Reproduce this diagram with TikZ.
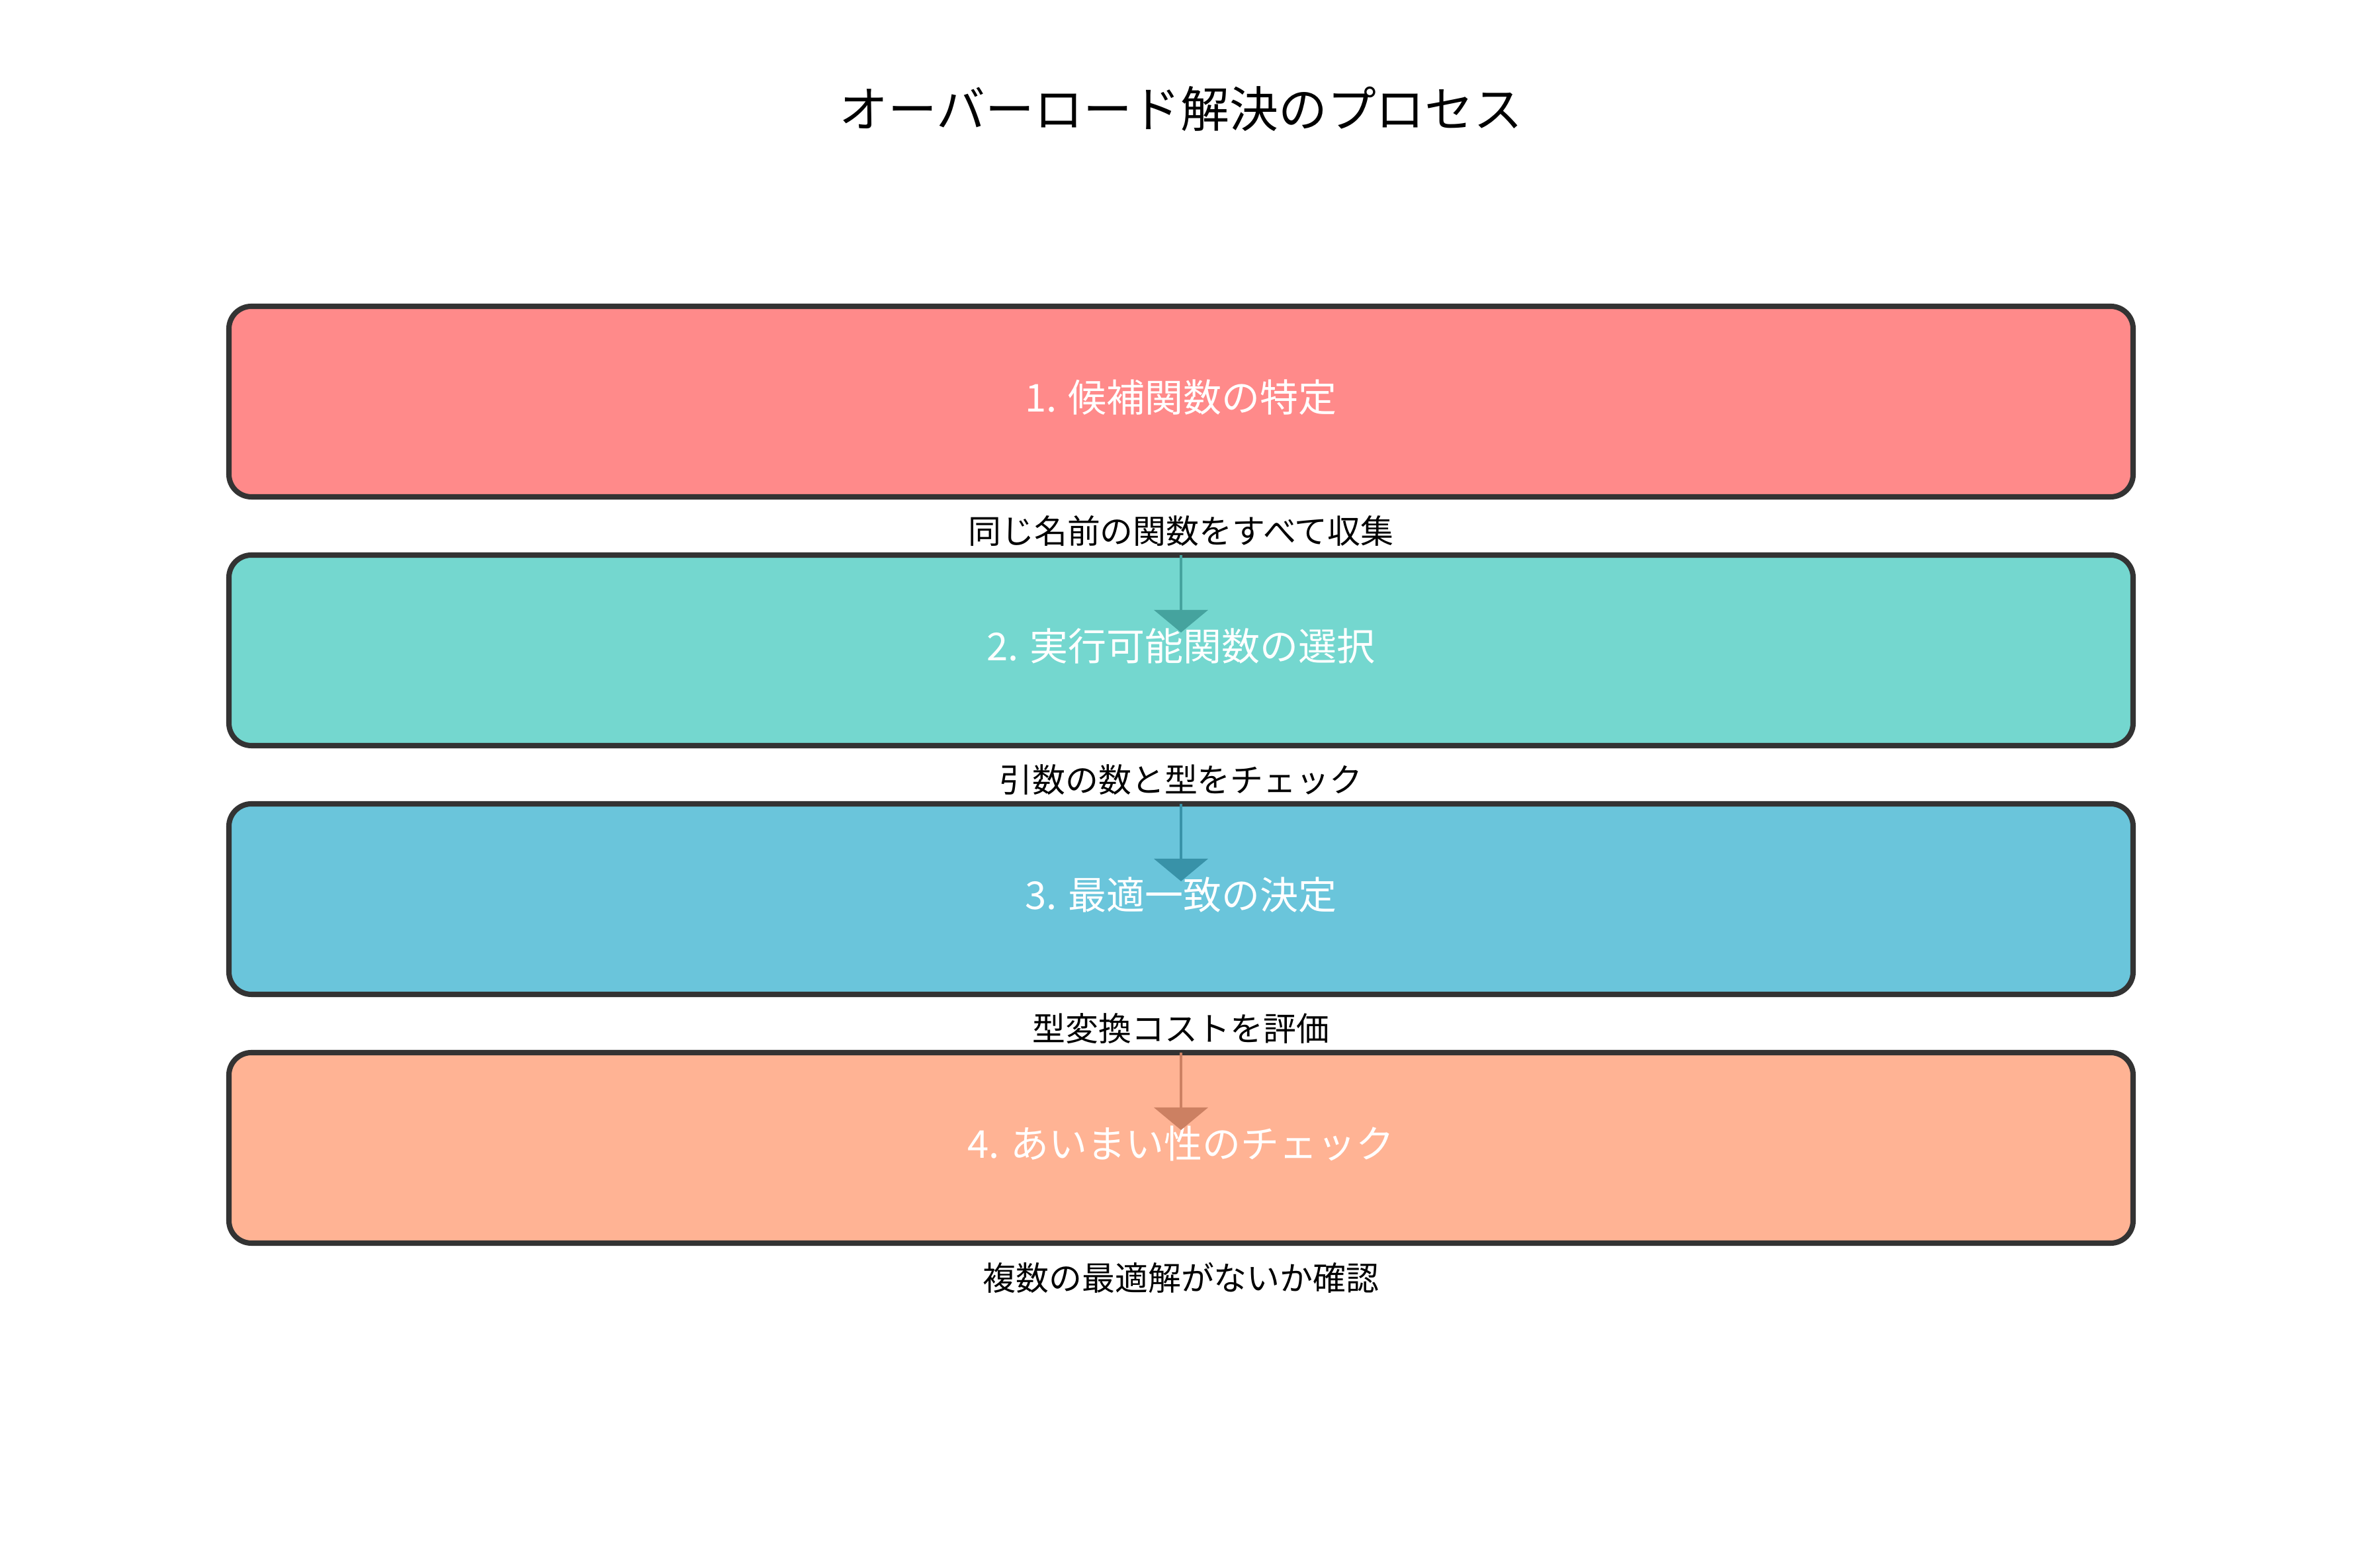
\documentclass[tikz,border=0pt]{standalone}
\usepackage{fontspec}
\setmainfont{Noto Sans CJK JP}
\usetikzlibrary{positioning,arrows.meta}

\definecolor{edge}{HTML}{333333}
\definecolor{redbox}{HTML}{FF8A8A}
\definecolor{tealbox}{HTML}{74D7CF}
\definecolor{bluebox}{HTML}{6AC5DB}
\definecolor{salmonbox}{HTML}{FFB394}
\definecolor{tealarrow}{HTML}{45A39E}
\definecolor{bluearrow}{HTML}{3892A8}
\definecolor{salmonarrow}{HTML}{CC8062}

\begin{document}
\begin{tikzpicture}[
    stepbox/.style={draw=edge, line width=2.3pt, rounded corners=3.4mm, minimum width=28.78cm, minimum height=2.88cm, outer sep=0pt, text=white, text depth=5pt, font=\fontsize{16.5}{20}\selectfont},
    notetext/.style={inner sep=0pt, font=\fontsize{14.2}{17}\selectfont},
    flowarrow/.style={line width=1.33pt, -{Triangle[width=8.1mm,length=3.4mm]}}
  ]
      \useasboundingbox (0,0) rectangle (35.7,23.7);

      % Titel
      \node (title) at (17.85,22.05) {\fontsize{21}{25}\selectfont オーバーロード解決のプロセス};

      % 1
      \node (box1) [stepbox, fill=redbox] at (17.85,17.63) {1. 候補関数の特定};
      \node (note1) [notetext] at ([yshift=-5.2mm]box1.south) {同じ名前の関数をすべて収集};

      % 2
      \node (box2) [stepbox, fill=tealbox, below=0.88cm of box1] {2. 実行可能関数の選択};
      \node (note2) [notetext] at ([yshift=-5.2mm]box2.south) {引数の数と型をチェック};

      % 3
      \node (box3) [stepbox, fill=bluebox, below=0.88cm of box2] {3. 最適一致の決定};
      \node (note3) [notetext] at ([yshift=-5.2mm]box3.south) {型変換コストを評価};

      % 4
      \node (box4) [stepbox, fill=salmonbox, below=0.88cm of box3] {4. あいまい性のチェック};
      \node (note4) [notetext] at ([yshift=-5.2mm]box4.south) {複数の最適解がないか確認};

      % Pfeile
      \coordinate (tip2) at ([yshift=-11.7mm]box2.north);
      \coordinate (tip3) at ([yshift=-11.7mm]box3.north);
      \coordinate (tip4) at ([yshift=-11.7mm]box4.north);
      \draw [flowarrow, tealarrow] (box2.north) -- (tip2);
      \draw [flowarrow, bluearrow] (box3.north) -- (tip3);
      \draw [flowarrow, salmonarrow] (box4.north) -- (tip4);
    \end{tikzpicture}
\end{document}
